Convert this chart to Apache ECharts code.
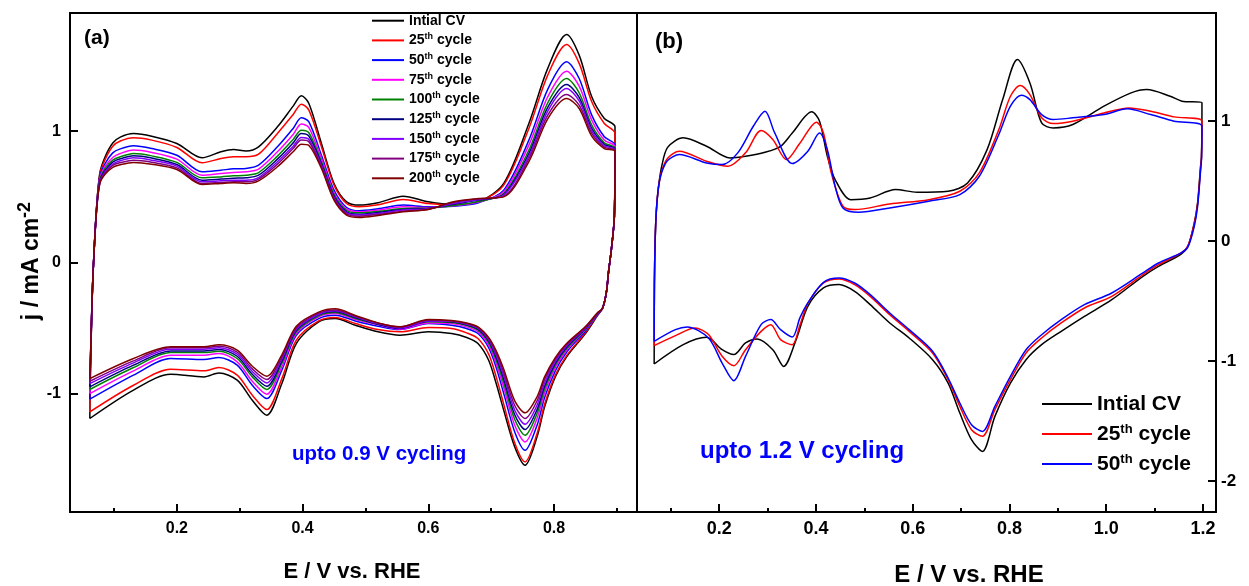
<!DOCTYPE html>
<html>
<head>
<meta charset="utf-8">
<script src="https://cdn.jsdelivr.net/npm/echarts@6/dist/echarts.min.js"></script>
<style>
html, body { margin: 0; padding: 0; background: #fff; }
#chart { width: 1249px; height: 586px; }
</style>
</head>
<body>
<div id="chart"></div>
<script>
// ---------- Panel (a): cycling up to 0.9 V ----------
// potential grid (V vs. RHE) of the anodic and cathodic sweeps
const potUpA = [0.0615, 0.0625, 0.0645, 0.0667, 0.072, 0.0774, 0.0854, 0.098, 0.11, 0.131, 0.16, 0.2, 0.24, 0.27, 0.29, 0.31, 0.33, 0.36, 0.385, 0.398, 0.41, 0.43, 0.45, 0.47, 0.49, 0.52, 0.56, 0.6, 0.64, 0.68, 0.72, 0.76, 0.79, 0.82, 0.84, 0.86, 0.88, 0.897];
const potDownA = [0.896, 0.891, 0.887, 0.883, 0.877, 0.869, 0.85, 0.82, 0.802, 0.785, 0.773, 0.754, 0.7375, 0.72, 0.708, 0.696, 0.679, 0.661, 0.637, 0.6, 0.555, 0.52, 0.484, 0.452, 0.4256, 0.39, 0.367, 0.343, 0.32, 0.296, 0.267, 0.243, 0.19, 0.131, 0.0615];

// current density (mA cm^-2), anodic sweep
const upA_c0   = [-1.188, -0.85, -0.42, -0.08, 0.40, 0.68, 0.80, 0.91, 0.955, 0.982, 0.962, 0.906, 0.797, 0.843, 0.861, 0.850, 0.881, 1.033, 1.191, 1.269, 1.211, 0.906, 0.602, 0.462, 0.437, 0.455, 0.505, 0.462, 0.442, 0.462, 0.602, 1.059, 1.478, 1.737, 1.579, 1.262, 1.097, 1.033];
const upA_c25  = [-1.138, -0.83, -0.415, -0.08, 0.40, 0.67, 0.78, 0.885, 0.925, 0.950, 0.932, 0.876, 0.759, 0.792, 0.805, 0.805, 0.825, 0.983, 1.127, 1.206, 1.160, 0.881, 0.589, 0.449, 0.424, 0.439, 0.480, 0.449, 0.439, 0.462, 0.589, 1.021, 1.427, 1.660, 1.516, 1.224, 1.059, 0.983];
const upA_c50  = [-1.041, -0.80, -0.41, -0.08, 0.40, 0.655, 0.75, 0.835, 0.865, 0.889, 0.868, 0.817, 0.691, 0.703, 0.713, 0.716, 0.741, 0.881, 1.021, 1.102, 1.071, 0.817, 0.551, 0.419, 0.394, 0.409, 0.437, 0.424, 0.429, 0.455, 0.551, 0.932, 1.318, 1.528, 1.401, 1.122, 0.957, 0.894];
const upA_c75  = [-0.998, -0.78, -0.40, -0.08, 0.39, 0.64, 0.73, 0.80, 0.83, 0.856, 0.838, 0.787, 0.665, 0.678, 0.685, 0.691, 0.711, 0.843, 0.975, 1.054, 1.028, 0.792, 0.531, 0.406, 0.386, 0.399, 0.424, 0.419, 0.432, 0.460, 0.538, 0.894, 1.262, 1.457, 1.343, 1.084, 0.932, 0.881];
const upA_c100 = [-0.967, -0.77, -0.40, -0.08, 0.39, 0.63, 0.715, 0.78, 0.805, 0.830, 0.812, 0.762, 0.645, 0.652, 0.660, 0.665, 0.685, 0.810, 0.937, 1.008, 0.988, 0.767, 0.518, 0.396, 0.378, 0.388, 0.411, 0.414, 0.434, 0.465, 0.526, 0.856, 1.216, 1.401, 1.292, 1.046, 0.911, 0.868];
const upA_c125 = [-0.947, -0.76, -0.39, -0.08, 0.39, 0.62, 0.70, 0.765, 0.79, 0.812, 0.795, 0.746, 0.627, 0.635, 0.642, 0.645, 0.665, 0.787, 0.911, 0.983, 0.962, 0.754, 0.505, 0.386, 0.368, 0.381, 0.404, 0.411, 0.444, 0.475, 0.518, 0.830, 1.181, 1.356, 1.257, 1.021, 0.899, 0.861];
const upA_c150 = [-0.922, -0.75, -0.39, -0.08, 0.38, 0.61, 0.69, 0.75, 0.775, 0.797, 0.779, 0.734, 0.614, 0.622, 0.627, 0.627, 0.647, 0.767, 0.886, 0.952, 0.937, 0.741, 0.495, 0.378, 0.361, 0.373, 0.399, 0.409, 0.449, 0.480, 0.513, 0.810, 1.153, 1.325, 1.231, 1.003, 0.889, 0.856];
const upA_c175 = [-0.904, -0.74, -0.38, -0.08, 0.38, 0.605, 0.68, 0.74, 0.76, 0.779, 0.764, 0.721, 0.602, 0.609, 0.614, 0.614, 0.635, 0.749, 0.868, 0.932, 0.919, 0.729, 0.485, 0.371, 0.353, 0.366, 0.391, 0.406, 0.457, 0.485, 0.505, 0.790, 1.122, 1.280, 1.198, 0.983, 0.878, 0.850];
const upA_c200 = [-0.884, -0.73, -0.38, -0.08, 0.38, 0.60, 0.67, 0.725, 0.745, 0.762, 0.749, 0.708, 0.594, 0.602, 0.607, 0.602, 0.622, 0.729, 0.843, 0.901, 0.891, 0.716, 0.475, 0.361, 0.343, 0.358, 0.386, 0.404, 0.462, 0.487, 0.500, 0.769, 1.094, 1.249, 1.173, 0.962, 0.868, 0.843];

// current density (mA cm^-2), cathodic sweep
const downA_c0   = [0.35, 0.09, -0.06, -0.236, -0.35, -0.405, -0.541, -0.719, -0.871, -1.099, -1.328, -1.544, -1.404, -1.125, -0.922, -0.744, -0.617, -0.571, -0.541, -0.528, -0.554, -0.528, -0.478, -0.427, -0.452, -0.617, -0.922, -1.163, -1.049, -0.896, -0.841, -0.871, -0.851, -0.972, -1.188];
const downA_c25  = [0.35, 0.09, -0.06, -0.236, -0.35, -0.400, -0.533, -0.709, -0.858, -1.079, -1.303, -1.518, -1.374, -1.079, -0.871, -0.698, -0.579, -0.536, -0.503, -0.495, -0.528, -0.511, -0.465, -0.419, -0.445, -0.592, -0.884, -1.120, -1.011, -0.858, -0.800, -0.825, -0.813, -0.935, -1.138];
const downA_c50  = [0.35, 0.09, -0.06, -0.236, -0.35, -0.398, -0.521, -0.683, -0.825, -1.028, -1.239, -1.430, -1.290, -0.998, -0.800, -0.648, -0.541, -0.503, -0.478, -0.465, -0.511, -0.485, -0.445, -0.401, -0.427, -0.554, -0.820, -1.036, -0.935, -0.782, -0.724, -0.739, -0.731, -0.858, -1.041];
const downA_c75  = [0.35, 0.09, -0.06, -0.236, -0.35, -0.395, -0.513, -0.668, -0.800, -0.993, -1.188, -1.366, -1.239, -0.952, -0.769, -0.630, -0.526, -0.490, -0.465, -0.460, -0.508, -0.475, -0.434, -0.389, -0.414, -0.541, -0.795, -1.003, -0.904, -0.757, -0.693, -0.706, -0.706, -0.825, -0.998];
const downA_c100 = [0.35, 0.09, -0.06, -0.236, -0.35, -0.393, -0.508, -0.655, -0.782, -0.965, -1.150, -1.315, -1.196, -0.917, -0.744, -0.612, -0.516, -0.480, -0.457, -0.452, -0.495, -0.470, -0.427, -0.381, -0.406, -0.528, -0.769, -0.967, -0.871, -0.731, -0.676, -0.686, -0.686, -0.800, -0.967];
const downA_c125 = [0.35, 0.09, -0.06, -0.236, -0.35, -0.390, -0.503, -0.645, -0.769, -0.942, -1.120, -1.272, -1.160, -0.889, -0.724, -0.599, -0.508, -0.475, -0.452, -0.447, -0.503, -0.470, -0.419, -0.374, -0.399, -0.518, -0.752, -0.942, -0.851, -0.714, -0.663, -0.673, -0.673, -0.782, -0.947];
const downA_c150 = [0.35, 0.09, -0.06, -0.236, -0.35, -0.388, -0.498, -0.635, -0.752, -0.917, -1.087, -1.232, -1.125, -0.863, -0.706, -0.589, -0.500, -0.470, -0.447, -0.445, -0.498, -0.465, -0.414, -0.368, -0.394, -0.508, -0.734, -0.917, -0.830, -0.698, -0.650, -0.660, -0.660, -0.764, -0.922];
const downA_c175 = [0.35, 0.09, -0.06, -0.236, -0.35, -0.386, -0.493, -0.625, -0.736, -0.891, -1.054, -1.188, -1.089, -0.838, -0.688, -0.579, -0.495, -0.465, -0.445, -0.439, -0.490, -0.462, -0.409, -0.361, -0.386, -0.498, -0.719, -0.891, -0.810, -0.683, -0.637, -0.650, -0.650, -0.749, -0.904];
const downA_c200 = [0.35, 0.09, -0.06, -0.236, -0.35, -0.383, -0.488, -0.617, -0.724, -0.871, -1.023, -1.145, -1.054, -0.813, -0.673, -0.571, -0.490, -0.460, -0.442, -0.434, -0.490, -0.460, -0.404, -0.353, -0.378, -0.485, -0.703, -0.866, -0.790, -0.668, -0.627, -0.642, -0.642, -0.731, -0.884];

// ---------- Panel (b): cycling up to 1.2 V, [E (V), j (mA cm^-2)] around the loop ----------
const loopB_c0 = [
  [0.0655, -1.026], [0.066, -0.35], [0.0675, 0.0], [0.07, 0.25], [0.0745, 0.45], [0.081, 0.62], [0.0933, 0.78], [0.1256, 0.859],
  [0.1738, 0.789], [0.2222, 0.692], [0.2544, 0.706], [0.2946, 0.739], [0.3268, 0.789], [0.351, 0.900], [0.3913, 1.076], [0.4074, 0.998],
  [0.4235, 0.706], [0.4396, 0.511], [0.4718, 0.344], [0.5121, 0.358], [0.5645, 0.428], [0.6088, 0.406], [0.6732, 0.414], [0.7134, 0.483],
  [0.7538, 0.761], [0.786, 1.178], [0.8165, 1.512], [0.8423, 1.317], [0.8665, 0.984], [0.8907, 0.942], [0.931, 0.970], [0.9954, 1.123],
  [1.0515, 1.234], [1.084, 1.262], [1.1323, 1.206], [1.1565, 1.165], [1.198, 1.151],
  [1.197, 0.70], [1.195, 0.62], [1.189, 0.32], [1.182, 0.15], [1.169, -0.045], [1.155, -0.11], [1.108, -0.212], [1.076, -0.295],
  [1.0115, -0.490], [0.955, -0.629], [0.907, -0.754], [0.8665, -0.865], [0.8343, -0.990], [0.802, -1.185], [0.7699, -1.463], [0.744, -1.755],
  [0.7215, -1.657], [0.6974, -1.435], [0.6732, -1.185], [0.641, -0.990], [0.5927, -0.809], [0.5525, -0.684], [0.5121, -0.531], [0.4799, -0.420],
  [0.4477, -0.364], [0.4155, -0.392], [0.3832, -0.545], [0.359, -0.823], [0.3333, -1.046], [0.3107, -0.907], [0.2785, -0.818], [0.2544, -0.851],
  [0.2302, -0.948], [0.206, -0.907], [0.1738, -0.804], [0.1256, -0.865], [0.0655, -1.026]
];
const loopB_c25 = [
  [0.0655, -0.873], [0.066, -0.35], [0.0675, 0.0], [0.07, 0.25], [0.0745, 0.45], [0.081, 0.58], [0.0933, 0.69], [0.1175, 0.748],
  [0.1738, 0.664], [0.2182, 0.622], [0.2544, 0.734], [0.2865, 0.920], [0.3107, 0.845], [0.339, 0.678], [0.3671, 0.817], [0.401, 0.990],
  [0.4155, 0.900], [0.4316, 0.567], [0.4557, 0.289], [0.4799, 0.261], [0.5525, 0.308], [0.633, 0.344], [0.6974, 0.414], [0.7377, 0.567],
  [0.778, 0.928], [0.802, 1.206], [0.8221, 1.295], [0.8423, 1.220], [0.8665, 1.026], [0.8907, 0.978], [0.931, 0.998], [0.9954, 1.067],
  [1.0476, 1.109], [1.092, 1.081], [1.1404, 1.034], [1.198, 0.998],
  [1.197, 0.70], [1.195, 0.60], [1.189, 0.31], [1.182, 0.14], [1.169, -0.04], [1.155, -0.10], [1.108, -0.198], [1.076, -0.281],
  [1.0115, -0.462], [0.955, -0.559], [0.907, -0.684], [0.8665, -0.809], [0.8343, -0.934], [0.802, -1.157], [0.7699, -1.407], [0.744, -1.629],
  [0.7215, -1.574], [0.6974, -1.379], [0.6732, -1.157], [0.641, -0.934], [0.5927, -0.754], [0.5525, -0.615], [0.5121, -0.462], [0.4799, -0.364],
  [0.4477, -0.317], [0.4155, -0.351], [0.3832, -0.520], [0.367, -0.700], [0.351, -0.865], [0.3268, -0.823], [0.3066, -0.698], [0.2865, -0.754],
  [0.2544, -0.907], [0.2302, -1.040], [0.206, -0.962], [0.1778, -0.781], [0.1497, -0.726], [0.1095, -0.790], [0.0655, -0.873]
];
const loopB_c50 = [
  [0.0655, -0.837], [0.066, -0.35], [0.0675, 0.0], [0.07, 0.25], [0.0745, 0.45], [0.081, 0.57], [0.0933, 0.67], [0.1175, 0.720],
  [0.1738, 0.650], [0.206, 0.636], [0.2383, 0.734], [0.2704, 0.956], [0.2946, 1.081], [0.3147, 0.900], [0.351, 0.645], [0.3832, 0.748],
  [0.4074, 0.900], [0.4235, 0.761], [0.4396, 0.456], [0.4557, 0.275], [0.4879, 0.239], [0.5525, 0.275], [0.633, 0.331], [0.6974, 0.386],
  [0.7377, 0.539], [0.778, 0.887], [0.802, 1.123], [0.8245, 1.215], [0.8423, 1.178], [0.8665, 1.053], [0.8907, 1.012], [0.931, 1.026],
  [0.9954, 1.053], [1.0436, 1.101], [1.092, 1.053], [1.1404, 0.998], [1.198, 0.956],
  [1.197, 0.68], [1.195, 0.58], [1.189, 0.29], [1.182, 0.12], [1.169, -0.05], [1.155, -0.10], [1.108, -0.184], [1.076, -0.267],
  [1.0115, -0.434], [0.955, -0.531], [0.907, -0.656], [0.8665, -0.782], [0.8343, -0.907], [0.802, -1.129], [0.7699, -1.379], [0.744, -1.588],
  [0.7215, -1.532], [0.6974, -1.351], [0.6732, -1.143], [0.641, -0.920], [0.5927, -0.740], [0.5525, -0.601], [0.5121, -0.448], [0.4799, -0.351],
  [0.4477, -0.309], [0.4155, -0.345], [0.3832, -0.517], [0.367, -0.640], [0.351, -0.801], [0.3268, -0.740], [0.3066, -0.656], [0.2865, -0.698],
  [0.2544, -0.962], [0.2302, -1.165], [0.206, -1.018], [0.1778, -0.809], [0.1336, -0.717], [0.1095, -0.740], [0.0655, -0.837]
];

// tick positions
const ticksA_major = [0.2, 0.4, 0.6, 0.8];
const ticksA_minor = [0.1, 0.3, 0.5, 0.7, 0.9];
const ticksB_major = [0.2, 0.4, 0.6, 0.8, 1.0, 1.2];
const ticksB_minor = [0.1, 0.3, 0.5, 0.7, 0.9, 1.1];
const ticksA_y = [-1, 0, 1];
const ticksB_y = [-2, -1, 0, 1];

const FONT = '"Liberation Sans", Arial, sans-serif';

const curvesA = [
  { name: 'Intial CV',   color: '#000000', up: upA_c0,   down: downA_c0 },
  { name: '25th cycle',  color: '#ff0000', up: upA_c25,  down: downA_c25 },
  { name: '50th cycle',  color: '#0000ff', up: upA_c50,  down: downA_c50 },
  { name: '75th cycle',  color: '#ff00ff', up: upA_c75,  down: downA_c75 },
  { name: '100th cycle', color: '#008000', up: upA_c100, down: downA_c100 },
  { name: '125th cycle', color: '#000080', up: upA_c125, down: downA_c125 },
  { name: '150th cycle', color: '#8000ff', up: upA_c150, down: downA_c150 },
  { name: '175th cycle', color: '#800080', up: upA_c175, down: downA_c175 },
  { name: '200th cycle', color: '#800000', up: upA_c200, down: downA_c200 }
];
const curvesB = [
  { name: 'Intial CV',  color: '#000000', loop: loopB_c0 },
  { name: '25th cycle', color: '#ff0000', loop: loopB_c25 },
  { name: '50th cycle', color: '#0000ff', loop: loopB_c50 }
];

function loopFrom(upE, upJ, downE, downJ) {
  const pts = upE.map((e, i) => [e, upJ[i]]);
  return pts.concat(downE.map((e, i) => [e, downJ[i]]));
}

const series = [];
curvesA.forEach(c => series.push({
  type: 'line', name: c.name, xAxisIndex: 0, yAxisIndex: 0,
  data: loopFrom(potUpA, c.up, potDownA, c.down),
  symbol: 'none', showSymbol: false, smooth: 0.3,
  lineStyle: { color: c.color, width: 1.5 }, itemStyle: { color: c.color }
}));
curvesB.forEach(c => series.push({
  type: 'line', name: c.name, xAxisIndex: 2, yAxisIndex: 1,
  data: c.loop,
  symbol: 'none', showSymbol: false, smooth: 0.3,
  lineStyle: { color: c.color, width: 1.5 }, itemStyle: { color: c.color }
}));

// legend label with superscript ordinal
function legendText(name) {
  const m = name.match(/^(\d+)th (.*)$/);
  return m ? '{n|' + m[1] + '}{s|th}{n| ' + m[2] + '}' : '{n|' + name + '}';
}
function richStyle(size, supSize, lh) {
  return {
    n: { fontSize: size, fontWeight: 'bold', fontFamily: FONT, color: '#000', lineHeight: lh },
    s: { fontSize: supSize, fontWeight: 'bold', fontFamily: FONT, color: '#000', verticalAlign: 'top', lineHeight: supSize + 1 }
  };
}

function xAxisDef(grid, min, max, ticks, len, labels, fontSize, margin) {
  return {
    type: 'value', gridIndex: grid, position: 'bottom', min: min, max: max,
    axisLine: { show: false, onZero: false }, splitLine: { show: false },
    axisTick: { show: true, inside: true, length: len, customValues: ticks, lineStyle: { color: '#000', width: 2 } },
    axisLabel: labels ? {
      show: true, customValues: ticks, margin: margin, color: '#000',
      fontFamily: FONT, fontWeight: 'bold', fontSize: fontSize, formatter: v => v.toFixed(1)
    } : { show: false }
  };
}

const option = {
  animation: false,
  backgroundColor: '#ffffff',
  textStyle: { fontFamily: FONT },
  grid: [
    { left: 70, top: 13, width: 567, height: 499, show: true, borderColor: '#000', borderWidth: 2, backgroundColor: 'transparent' },
    { left: 637, top: 13, width: 579, height: 499, show: true, borderColor: '#000', borderWidth: 2, backgroundColor: 'transparent' }
  ],
  xAxis: [
    xAxisDef(0, 0.03, 0.932, ticksA_major, 8, true, 16, 9),
    xAxisDef(0, 0.03, 0.932, ticksA_minor, 4, false, 16, 9),
    xAxisDef(1, 0.03, 1.227, ticksB_major, 8, true, 18, 8),
    xAxisDef(1, 0.03, 1.227, ticksB_minor, 4, false, 18, 8)
  ],
  yAxis: [
    {
      type: 'value', gridIndex: 0, position: 'left', min: -1.9, max: 1.9,
      axisLine: { show: false, onZero: false }, splitLine: { show: false },
      axisTick: { show: true, inside: true, length: 8, customValues: ticksA_y, lineStyle: { color: '#000', width: 2 } },
      axisLabel: { customValues: ticksA_y, margin: 9, color: '#000', fontFamily: FONT, fontWeight: 'bold', fontSize: 16 }
    },
    {
      type: 'value', gridIndex: 1, position: 'right', min: -2.26, max: 1.9,
      axisLine: { show: false, onZero: false }, splitLine: { show: false },
      axisTick: { show: true, inside: true, length: 8, customValues: ticksB_y, lineStyle: { color: '#000', width: 2 } },
      axisLabel: { customValues: ticksB_y, margin: 5, color: '#000', fontFamily: FONT, fontWeight: 'bold', fontSize: 17 }
    }
  ],
  legend: [
    {
      data: curvesA.map(c => c.name),
      orient: 'vertical', left: 372, top: 13.7, padding: 0,
      icon: 'rect', itemWidth: 32, itemHeight: 2, itemGap: 4.7, selectedMode: false,
      formatter: legendText,
      textStyle: { rich: richStyle(14, 9, 16) }
    },
    {
      data: curvesB.map(c => c.name),
      orient: 'vertical', left: 1042, top: 393.5, padding: 0,
      icon: 'rect', itemWidth: 50, itemHeight: 2, itemGap: 8, selectedMode: false,
      formatter: legendText,
      textStyle: { rich: richStyle(21, 13, 23) }
    }
  ],
  graphic: [
    { type: 'text', left: 84, top: 28, style: { text: '(a)', font: 'bold 21px ' + FONT, fill: '#000' } },
    { type: 'text', left: 655, top: 31, style: { text: '(b)', font: 'bold 22px ' + FONT, fill: '#000' } },
    { type: 'text', left: 292, top: 444, style: { text: 'upto 0.9 V cycling', font: 'bold 20.5px ' + FONT, fill: '#0000ff' } },
    { type: 'text', left: 700, top: 439, style: { text: 'upto 1.2 V cycling', font: 'bold 24px ' + FONT, fill: '#0000ff' } },
    { type: 'text', x: 352, y: 572, style: { text: 'E / V vs. RHE', font: 'bold 22px ' + FONT, fill: '#000', align: 'center', verticalAlign: 'middle' } },
    { type: 'text', x: 969, y: 575, style: { text: 'E / V vs. RHE', font: 'bold 24px ' + FONT, fill: '#000', align: 'center', verticalAlign: 'middle' } },
    {
      // y-axis title with raised exponent
      type: 'text', x: 30, y: 261, rotation: Math.PI / 2,
      style: {
        text: '{m|j / mA cm}{s|-2}', align: 'center', verticalAlign: 'middle',
        rich: {
          m: { font: 'bold 23px ' + FONT, lineHeight: 27, verticalAlign: 'bottom', fill: '#000' },
          s: { font: 'bold 18px ' + FONT, lineHeight: 18, verticalAlign: 'top', padding: [0, 0, 17, 0], fill: '#000' }
        }
      }
    }
  ],
  series: series
};

const chart = echarts.init(document.getElementById('chart'), null, { renderer: 'canvas' });
chart.setOption(option);
</script>
</body>
</html>
